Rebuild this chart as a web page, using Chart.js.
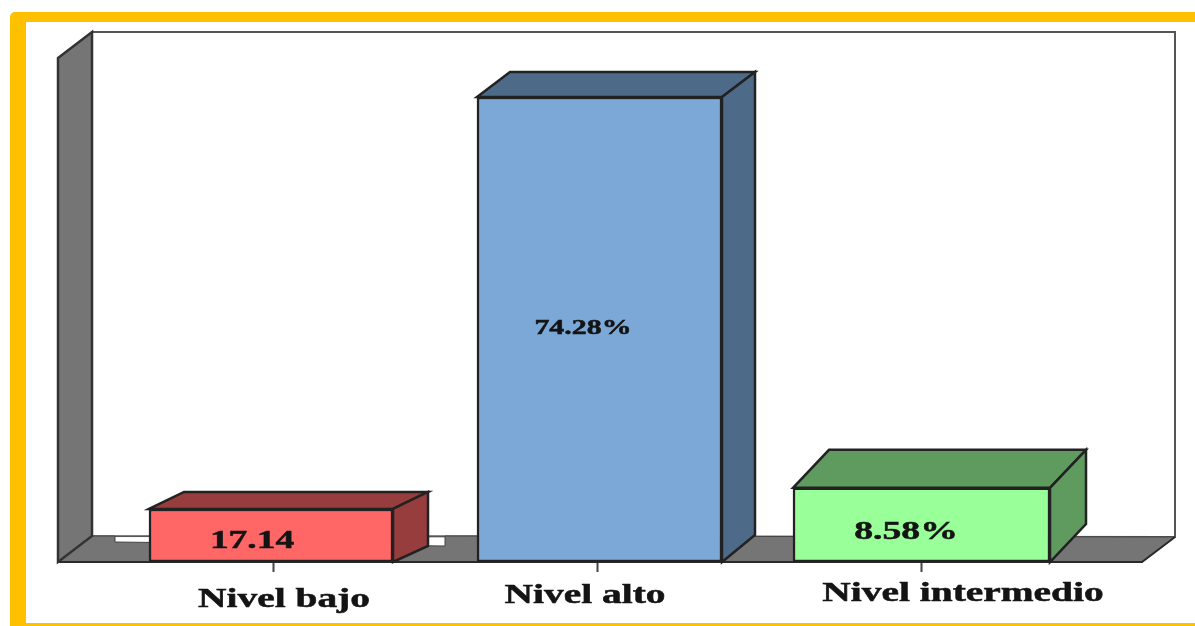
<!DOCTYPE html>
<html><head><meta charset="utf-8">
<style>html,body{margin:0;padding:0;background:#fff;overflow:hidden}canvas{display:block;filter:blur(0.6px)}</style>
<script src="https://cdn.jsdelivr.net/npm/chart.js@4"></script>
</head><body><canvas id="c" width="1195" height="626"></canvas>
<script>
// Data
const categories = ['Nivel bajo', 'Nivel alto', 'Nivel intermedio'];
const barHeights = [8.47, 74.28, 11.85];           // plotted height
const valueLabels = ['17.14', '74.28%', '8.58%'];  // printed labels

// Styles
const faceColors = ['#FF6666', '#7BA8D7', '#99FF99'];
const shadeColors = ['#973D3D', '#4D6B89', '#5F9A5F'];
const thickness = [244, 245, 257];
const nudgeX = [-2, 2.5, 0.5];
const depths = [[35, -17], [33, -25], [36, -38]];
const sideDrop = [[35, -16], [33, -27], [36, -38]];
const valueOffset = [[-21, 32], [-14, 231], [-15, 44]];
const valueScale = [[1.44, 26], [1.36, 22], [1.45, 26]];
const catOffset = [[11, 38], [-12, 34], [42, 32]];
const catScale = 1.46, catFont = 27;
const INK = '#222';

function poly(ctx, pts, fill, stroke, lw) {
  ctx.beginPath();
  pts.forEach((p, i) => i ? ctx.lineTo(p[0], p[1]) : ctx.moveTo(p[0], p[1]));
  ctx.closePath();
  if (fill) { ctx.fillStyle = fill; ctx.fill(); }
  if (stroke) { ctx.strokeStyle = stroke; ctx.lineWidth = lw || 2; ctx.stroke(); }
}
function stretched(ctx, text, x, y, sx, size) {
  ctx.save();
  ctx.font = 'bold ' + size + 'px "Liberation Serif"';
  ctx.textAlign = 'center';
  ctx.textBaseline = 'middle';
  ctx.fillStyle = '#141414';
  ctx.strokeStyle = '#141414';
  ctx.lineWidth = 0.5;
  ctx.translate(x, y);
  ctx.scale(sx, 1);
  ctx.fillText(text, 0, 0);
  ctx.strokeText(text, 0, 0);
  ctx.restore();
}

const frame = {
  id: 'frame',
  beforeDraw(chart) {
    const ctx = chart.ctx;
    ctx.save();
    ctx.fillStyle = '#FFC000';
    ctx.beginPath();
    ctx.roundRect(10, 12, 1195, 620, 5);
    ctx.fill();
    ctx.fillStyle = '#fff';
    ctx.fillRect(26, 22, 1169, 601);
    ctx.restore();
  }
};

const box3d = {
  id: 'box3d',
  beforeDatasetsDraw(chart) {
    const ctx = chart.ctx, a = chart.chartArea;
    const L = 58, R = 1142, B = a.bottom, dx = 34, dy = 26;
    ctx.save();
    // back wall
    poly(ctx, [[L + dx, a.top], [1175, a.top], [1175, B - 25], [L + dx, B - dy]], '#fff', '#555', 2);
    // floor
    poly(ctx, [[L, B], [L + dx, B - dy], [115, B - dy], [115, B - 20], [445, B - 16], [445, B - dy],
               [R + 33, B - 25], [R, B]], '#757575', '#444', 1);
    ctx.beginPath(); ctx.moveTo(L, B); ctx.lineTo(R, B); ctx.lineTo(R + 33, B - 25);
    ctx.strokeStyle = '#2a2a2a'; ctx.lineWidth = 2; ctx.stroke();
    // side wall
    poly(ctx, [[L, a.top + dy], [L + dx, a.top], [L + dx, B - dy], [L, B]], '#757575', '#333', 2.5);
    ctx.restore();
  },
  beforeDatasetDraw(chart, args) {
    const i = args.index, ctx = chart.ctx;
    const el = chart.getDatasetMeta(i).data[i];
    ctx.save();
    ctx.translate(nudgeX[i], 0);
    const l = el.x - thickness[i] / 2, r = el.x + thickness[i] / 2;
    const [dx, dy] = depths[i], [sx, sy] = sideDrop[i];
    poly(ctx, [[l, el.y], [l + dx, el.y + dy], [r + dx, el.y + dy], [r, el.y]], shadeColors[i], INK, 2.5);
    poly(ctx, [[r, el.y], [r + dx, el.y + dy], [r + sx, el.base + sy], [r, el.base]], shadeColors[i], INK, 2.5);
  },
  afterDatasetDraw(chart) {
    chart.ctx.restore();
  },
  afterDatasetsDraw(chart) {
    const ctx = chart.ctx, xs = chart.scales.x;
    categories.forEach((c, i) => {
      const el = chart.getDatasetMeta(i).data[i];
      stretched(ctx, valueLabels[i], el.x + valueOffset[i][0], el.y + valueOffset[i][1], valueScale[i][0], valueScale[i][1]);
      stretched(ctx, c, xs.getPixelForTick(i) + catOffset[i][0], chart.chartArea.bottom + catOffset[i][1], catScale, catFont);
    });
  }
};

new Chart(document.getElementById('c'), {
  type: 'bar',
  data: {
    labels: categories,
    datasets: categories.map((c, i) => ({
      label: c,
      data: categories.map((_, j) => j === i ? barHeights[j] : null),
      backgroundColor: faceColors[i],
      borderColor: INK,
      borderWidth: 2.5,
      borderSkipped: false,
      barThickness: thickness[i]
    }))
  },
  options: {
    responsive: false,
    animation: false,
    layout: { padding: { left: 111, right: 112, top: 32, bottom: 64 } },
    plugins: { legend: { display: false }, tooltip: { enabled: false } },
    scales: {
      x: {
        stacked: true,
        afterFit(s) { s.height = 0; },
        border: { display: false },
        grid: { offset: false, drawOnChartArea: false, drawTicks: true, tickLength: 10, tickColor: '#444', tickWidth: 2 },
        ticks: { display: false }
      },
      y: { stacked: true, display: false, min: 0, max: 84.67 }
    }
  },
  plugins: [frame, box3d]
});
</script></body></html>
